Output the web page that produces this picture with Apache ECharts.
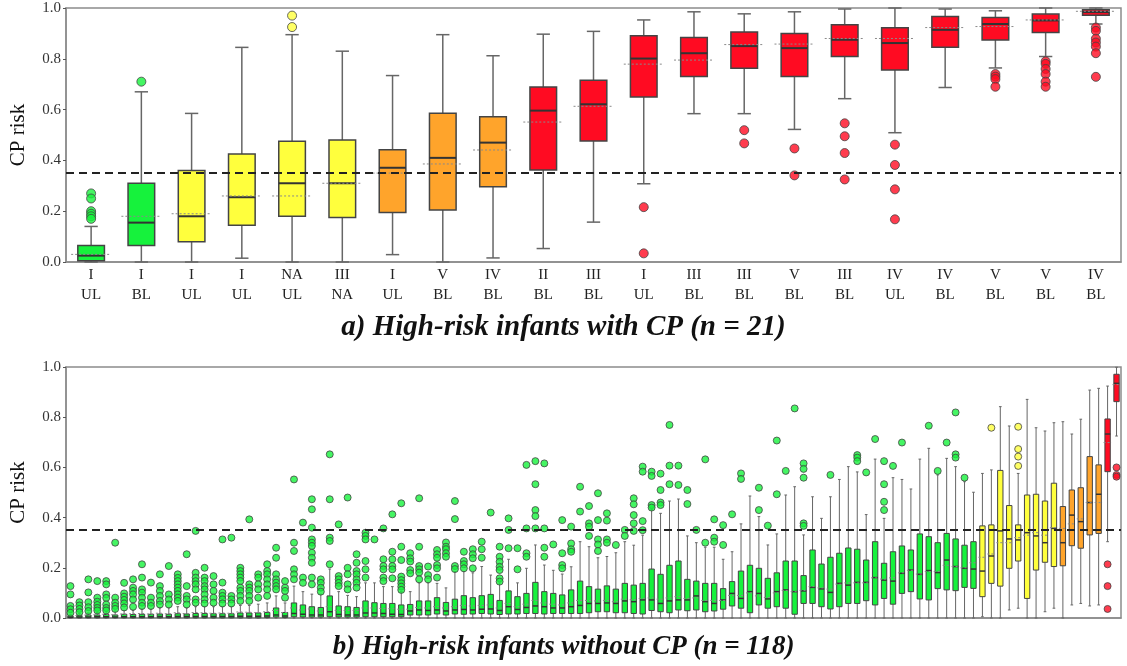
<!DOCTYPE html>
<html>
<head>
<meta charset="utf-8">
<script src="https://cdn.jsdelivr.net/npm/echarts@6/dist/echarts.min.js"></script>
<style>
  html, body { margin: 0; padding: 0; background: #fff; }
  #chart { width: 1127px; height: 666px; }
</style>
</head>
<body>
<div id="chart"></div>
<script>
const threshold = 0.35;
const groupColors = ['#16f23c', '#ffff3d', '#ffa42b', '#ff0b22'];
const serif = 'Liberation Serif';

// a) with CP, 21 infants
const gradeA = ['I','I','I','I','NA','III','I','V','IV','II','III','I','III','III','V','III','IV','IV','V','V','IV'];
const limbA = ['UL','BL','UL','UL','UL','NA','UL','BL','BL','BL','BL','UL','BL','BL','BL','BL','UL','BL','BL','BL','BL'];
const groupA = [0,0,1,1,1,1,2,2,2,3,3,3,3,3,3,3,3,3,3,3,3];
const lowA = [0,0,0,0.015,0,0,0.029,0,0.016,0.053,0.157,0.308,0.584,0.584,0.522,0.643,0.509,0.687,0.764,0.809,0.937];
const q1A = [0.005,0.065,0.08,0.145,0.18,0.175,0.195,0.205,0.296,0.362,0.476,0.65,0.73,0.763,0.73,0.809,0.756,0.845,0.874,0.904,0.971];
const medA = [0.025,0.155,0.18,0.255,0.31,0.31,0.371,0.41,0.47,0.596,0.621,0.801,0.822,0.85,0.842,0.875,0.862,0.914,0.937,0.951,0.984];
const q3A = [0.065,0.31,0.36,0.425,0.475,0.48,0.442,0.586,0.572,0.689,0.716,0.891,0.884,0.906,0.90,0.934,0.922,0.967,0.963,0.976,0.993];
const highA = [0.14,0.67,0.585,0.845,0.895,0.83,0.734,0.895,0.812,0.897,0.908,0.953,0.985,0.977,0.985,0.996,1.0,0.996,0.989,1.0,1.0];
const meanA = [0.03,0.18,0.19,0.26,0.26,0.31,0.35,0.386,0.441,0.551,0.613,0.779,0.795,0.856,0.858,0.88,0.88,0.923,0.927,0.953,0.987];
const outA = [[0.27,0.25,0.20,0.19,0.18,0.17],[0.71],[],[],[0.925,0.97],[],[],[],[],[],[],[0.216,0.034],[],[0.519,0.467],[0.447,0.341],
  [0.546,0.495,0.429,0.325],[0.462,0.382,0.286,0.168],[],[0.74,0.73,0.72,0.69],[0.79,0.78,0.76,0.74,0.71,0.69],[0.923,0.91,0.879,0.864,0.848,0.822,0.729]];

// b) without CP, 118 infants
const groupRunsB = [[0,102],[1,9],[2,5],[3,2]];
const lowB = [
  0,0,0,0,0,0,0,0,0,0, 0,0,0,0,0,0,0,0,0,0, 0,0,0,0,0,0,0,0,0,0, 0,0,0,0,0,0,0,0,0,0,
  0,0,0,0,0,0,0,0,0,0, 0,0,0,0,0,0,0,0,0,0, 0,0,0,0,0,0,0,0,0,0, 0,0,0,0,0,0,0,0,0,0,
  0,0,0,0,0,0,0,0,0,0, 0,0,0,0,0,0,0,0,0,0, 0,0,0.005,0,0,0.032,0.039,0,0,0.025,
  0.039,0,0.052,0.058,0.048,0.052,0.304,0.725];
const q1B = [
  0.001,0.001,0.001,0.001,0.001,0.001,0.001,0.001,0.001,0.001,
  0.001,0.001,0.001,0.001,0.001,0.001,0.001,0.001,0.001,0.001,
  0.001,0.001,0.002,0.004,0.002,0.005,0.004,0.004,0.004,0.005,
  0.004,0.004,0.004,0.005,0.005,0.005,0.005,0.005,0.012,0.012,
  0.012,0.016,0.012,0.016,0.015,0.016,0.018,0.016,0.014,0.016,
  0.016,0.018,0.018,0.016,0.018,0.018,0.018,0.018,0.021,0.025,
  0.025,0.021,0.021,0.018,0.016,0.030,0.025,0.021,0.032,0.029,
  0.032,0.025,0.028,0.035,0.048,0.039,0.021,0.052,0.039,0.045,
  0.039,0.015,0.058,0.058,0.045,0.036,0.045,0.058,0.058,0.069,
  0.052,0.078,0.055,0.098,0.105,0.076,0.072,0.117,0.112,0.109,
  0.122,0.118,0.085,0.138,0.127,0.198,0.227,0.078,0.191,0.222,
  0.205,0.208,0.288,0.278,0.331,0.337,0.583,0.862];
const medB = [
  0.003,0.004,0.004,0.005,0.005,0.004,0.005,0.005,0.005,0.005,
  0.006,0.005,0.006,0.006,0.006,0.006,0.006,0.006,0.006,0.007,
  0.007,0.007,0.008,0.012,0.008,0.018,0.015,0.012,0.012,0.025,
  0.014,0.012,0.012,0.02,0.02,0.018,0.015,0.014,0.028,0.032,
  0.03,0.032,0.028,0.032,0.034,0.032,0.035,0.036,0.03,0.045,
  0.034,0.042,0.048,0.045,0.04,0.04,0.045,0.05,0.058,0.058,
  0.06,0.058,0.068,0.065,0.072,0.072,0.058,0.068,0.072,0.072,
  0.088,0.065,0.058,0.072,0.098,0.078,0.105,0.098,0.076,0.105,
  0.112,0.105,0.108,0.122,0.116,0.102,0.138,0.131,0.142,0.142,
  0.161,0.151,0.147,0.178,0.191,0.174,0.189,0.181,0.231,0.205,
  0.198,0.195,0.187,0.247,0.347,0.315,0.311,0.34,0.327,0.30,
  0.357,0.30,0.41,0.384,0.46,0.493,0.733,0.935];
const q3B = [
  0.008,0.010,0.012,0.012,0.014,0.012,0.015,0.014,0.015,0.015,
  0.016,0.015,0.017,0.016,0.018,0.018,0.017,0.017,0.017,0.02,
  0.02,0.02,0.022,0.04,0.022,0.06,0.052,0.045,0.042,0.088,
  0.048,0.045,0.042,0.068,0.061,0.058,0.058,0.052,0.054,0.068,
  0.068,0.081,0.062,0.075,0.089,0.081,0.089,0.094,0.07,0.108,
  0.085,0.098,0.142,0.105,0.098,0.092,0.112,0.147,0.125,0.115,
  0.128,0.115,0.138,0.131,0.138,0.195,0.174,0.21,0.227,0.154,
  0.147,0.138,0.138,0.117,0.145,0.187,0.21,0.198,0.158,0.18,
  0.227,0.227,0.169,0.271,0.215,0.242,0.258,0.279,0.274,0.231,
  0.304,0.218,0.264,0.287,0.271,0.335,0.324,0.30,0.337,0.315,
  0.29,0.304,0.367,0.371,0.588,0.448,0.371,0.49,0.493,0.466,
  0.537,0.444,0.51,0.519,0.643,0.61,0.793,0.971];
const highB = [
  0.015,0.018,0.02,0.022,0.025,0.028,0.03,0.03,0.035,0.035,
  0.04,0.04,0.045,0.04,0.045,0.045,0.045,0.045,0.045,0.05,
  0.05,0.055,0.06,0.088,0.06,0.127,0.105,0.095,0.095,0.195,
  0.105,0.09,0.085,0.14,0.14,0.125,0.125,0.105,0.105,0.14,
  0.14,0.138,0.12,0.185,0.185,0.18,0.205,0.171,0.14,0.234,
  0.14,0.198,0.291,0.211,0.19,0.175,0.204,0.304,0.284,0.24,
  0.245,0.26,0.304,0.29,0.33,0.433,0.417,0.466,0.474,0.327,
  0.30,0.282,0.282,0.234,0.264,0.375,0.486,0.404,0.291,0.335,
  0.49,0.523,0.331,0.483,0.397,0.483,0.552,0.603,0.582,0.412,
  0.633,0.397,0.559,0.552,0.514,0.633,0.676,0.57,0.636,0.603,
  0.543,0.501,0.576,0.59,0.842,0.765,0.576,0.871,0.758,0.745,
  0.778,0.782,0.733,0.792,0.908,0.915,0.924,0.999];
const meanB = [
  0.012,0.01,0.012,0.013,0.015,0.013,0.016,0.017,0.018,0.016,
  0.019,0.017,0.021,0.018,0.022,0.021,0.019,0.02,0.019,0.024,
  0.023,0.022,0.025,0.03,0.022,0.04,0.032,0.036,0.028,0.045,
  0.03,0.03,0.03,0.04,0.04,0.038,0.037,0.035,0.035,0.042,
  0.04,0.045,0.04,0.045,0.05,0.048,0.05,0.052,0.04,0.058,
  0.045,0.055,0.07,0.06,0.055,0.052,0.06,0.07,0.07,0.068,
  0.07,0.065,0.075,0.073,0.078,0.08,0.075,0.08,0.085,0.078,
  0.08,0.07,0.07,0.07,0.09,0.09,0.1,0.088,0.082,0.1,
  0.11,0.105,0.11,0.125,0.12,0.115,0.135,0.14,0.14,0.14,
  0.16,0.155,0.16,0.18,0.19,0.175,0.185,0.185,0.21,0.205,
  0.2,0.22,0.242,0.255,0.3,0.3,0.32,0.33,0.34,0.33,
  0.36,0.357,0.375,0.395,0.46,0.46,0.699,0.93];
const outB = [
  [0.127,0.094,0.048,0.035,0.021],[0.063,0.05,0.036,0.023],[0.154,0.102,0.063,0.043,0.028],[0.147,0.081,0.065,0.052,0.04,0.03],
  [0.147,0.134,0.094,0.08,0.054,0.04,0.03],[0.30,0.081,0.061,0.048,0.036],[0.14,0.098,0.085,0.072,0.058,0.042],
  [0.154,0.121,0.108,0.094,0.074,0.045],[0.214,0.161,0.114,0.101,0.081,0.061,0.048],[0.141,0.081,0.061,0.048],
  [0.174,0.127,0.108,0.088,0.068,0.054],[0.207,0.094,0.074,0.054],[0.174,0.16,0.147,0.134,0.121,0.108,0.094,0.081,0.068],
  [0.254,0.127,0.088,0.074,0.054],[0.347,0.18,0.161,0.147,0.134,0.114,0.074,0.061],[0.20,0.161,0.147,0.127,0.114,0.094,0.074,0.058],
  [0.167,0.134,0.108,0.081,0.061],[0.313,0.141,0.101,0.088,0.074,0.058],[0.32,0.088,0.074,0.058],
  [0.20,0.187,0.174,0.161,0.147,0.121,0.108,0.088,0.068],[0.393,0.134,0.121,0.108,0.088,0.068],[0.174,0.161,0.134,0.114,0.081],
  [0.214,0.187,0.174,0.154,0.134,0.114,0.088],[0.28,0.24,0.174,0.154,0.141,0.127,0.114],[0.147,0.121,0.108,0.081],
  [0.552,0.30,0.267,0.194,0.174,0.154],[0.38,0.161,0.14],[0.473,0.433,0.36,0.313,0.30,0.287,0.26,0.24,0.22,0.161,0.134],
  [0.154,0.14,0.121,0.105],[0.652,0.473,0.32,0.307,0.214],[0.373,0.167,0.154,0.14,0.127],[0.48,0.20,0.174,0.134,0.114],
  [0.254,0.22,0.187,0.174,0.154,0.14,0.121],[0.34,0.327,0.313,0.227,0.194,0.161],[0.313],[0.357,0.234,0.207,0.194,0.161,0.147],
  [0.413,0.264,0.234,0.207,0.194,0.158],[0.457,0.284,0.231,0.165,0.151,0.138,0.125,0.112],[0.258,0.238,0.225,0.191,0.178],
  [0.477,0.284,0.207,0.194,0.181,0.154],[0.205,0.171,0.154],[0.271,0.254,0.24,0.211,0.198,0.161],[0.301,0.284,0.274,0.258,0.244],
  [0.466,0.394,0.207,0.195],[0.264,0.227,0.214,0.198],[0.274,0.254,0.238,0.198],[0.304,0.274,0.24],[0.42],
  [0.284,0.244,0.224,0.204,0.191,0.158,0.145],[0.397,0.351,0.278],[0.278,0.194],[0.61,0.357,0.258,0.244],
  [0.625,0.533,0.43,0.406,0.357],[0.616,0.357,0.28,0.244],[0.293],[0.39,0.258,0.211,0.198],[0.364,0.297,0.274,0.264],
  [0.523,0.424],[0.446,0.377,0.364,0.327],[0.497,0.39,0.313,0.293,0.267],[0.417,0.388,0.313,0.30],[0.291],[0.351,0.327],
  [0.477,0.453,0.41,0.377,0.347],[0.603,0.583,0.386,0.35],[0.583,0.566,0.45,0.44],[0.575,0.51,0.46,0.45],[0.769,0.607,0.533],
  [0.607,0.53],[0.51,0.454],[0.351],[0.632,0.30],[0.393,0.32,0.304],[0.37,0.291],[0.413],[0.576,0.554],[],
  [0.519,0.43],[0.368],[0.707,0.493],[0.586],[0.835],[0.616,0.594,0.559,0.377,0.367],[],[],[0.57],[],[],
  [0.649,0.639,0.625],[0.58],[0.713],[0.625,0.533,0.463,0.43],[0.606],[0.699],[],[],[0.766],[0.586],[0.699],
  [0.819,0.652,0.639],[0.559],[],[],[0.758],[],[],[0.762,0.673,0.643,0.606],[],[],[],[],[],[],[],[],[],
  [0.214,0.127,0.036],[0.6,0.57,0.563]];

const groupB = [];
groupRunsB.forEach(([g, n]) => { for (let k = 0; k < n; k++) groupB.push(g); });

function boxRows(low, q1, med, q3, high, mean, group) {
  return low.map((v, i) => [i, v, q1[i], med[i], q3[i], high[i], mean[i], group[i]]);
}
function outlierRows(outs, group) {
  const rows = [];
  outs.forEach((list, i) => list.forEach(v => rows.push([i, v, group[i]])));
  return rows;
}

function makeRender(boxRatio, lw) {
  return function (params, api) {
    const x = api.value(0);
    const band = api.size([1, 0])[0];
    const bw = band * boxRatio;
    const pt = v => api.coord([x, v]);
    const cx = pt(0)[0];
    const yLow = pt(api.value(1))[1], yQ1 = pt(api.value(2))[1], yMed = pt(api.value(3))[1];
    const yQ3 = pt(api.value(4))[1], yHigh = pt(api.value(5))[1], yMean = pt(api.value(6))[1];
    const fill = groupColors[api.value(7)];
    const wStyle = { stroke: '#666', lineWidth: lw };
    const cap = bw * 0.25;
    return {
      type: 'group',
      children: [
        { type: 'line', shape: { x1: cx, y1: yLow, x2: cx, y2: yQ1 }, style: wStyle },
        { type: 'line', shape: { x1: cx, y1: yQ3, x2: cx, y2: yHigh }, style: wStyle },
        { type: 'line', shape: { x1: cx - cap, y1: yLow, x2: cx + cap, y2: yLow }, style: wStyle },
        { type: 'line', shape: { x1: cx - cap, y1: yHigh, x2: cx + cap, y2: yHigh }, style: wStyle },
        { type: 'rect', shape: { x: cx - bw / 2, y: yQ3, width: bw, height: Math.max(yQ1 - yQ3, 1) },
          style: { fill: fill, stroke: '#444', lineWidth: lw } },
        { type: 'line', shape: { x1: cx - bw / 2, y1: yMed, x2: cx + bw / 2, y2: yMed },
          style: { stroke: '#333', lineWidth: lw + 0.5 } },
        { type: 'line', shape: { x1: cx - bw * 0.75, y1: yMean, x2: cx + bw * 0.75, y2: yMean },
          style: { stroke: '#8a8a8a', lineWidth: 1, lineDash: [2, 2] } }
      ]
    };
  };
}

function yAxisFor(gridIndex) {
  return {
    type: 'value', gridIndex: gridIndex, min: 0, max: 1, interval: 0.2,
    name: 'CP risk', nameLocation: 'middle', nameGap: 37,
    nameTextStyle: { fontFamily: serif, fontSize: 21, color: '#111' },
    axisLine: { show: true, lineStyle: { color: '#8c8c8c', width: 1.5 } },
    axisTick: { show: true, length: 3, lineStyle: { color: '#555' } },
    axisLabel: { fontFamily: serif, fontSize: 15, color: '#333', margin: 5, formatter: v => v.toFixed(1) },
    splitLine: { show: false }
  };
}

function outlierSeries(axis, rows, size) {
  return {
    type: 'scatter', xAxisIndex: axis, yAxisIndex: axis, data: rows, symbolSize: size, z: 4,
    itemStyle: { color: p => groupColors[p.data[2]], borderColor: '#444', borderWidth: 1 },
    markLine: {
      silent: true, symbol: 'none', label: { show: false }, animation: false,
      lineStyle: { type: [8, 5], color: '#222', width: 2 },
      data: [{ yAxis: threshold }]
    }
  };
}

const titleStyle = { fontFamily: serif, fontStyle: 'italic', fontWeight: 'bold', fontSize: 27, color: '#111' };

const chart = echarts.init(document.getElementById('chart'));
chart.setOption({
  animation: false,
  title: [
    { text: 'a) High-risk infants with CP (n = 21)', left: 'center', top: 308,
      textStyle: Object.assign({}, titleStyle, { fontSize: 29 }) },
    { text: 'b) High-risk infants without CP (n = 118)', left: 'center', top: 629, textStyle: titleStyle }
  ],
  grid: [
    { left: 56, right: 6, top: 8, height: 254, show: true, borderColor: '#8c8c8c', borderWidth: 1.5 },
    { left: 54, right: 6, top: 367, height: 251, show: true, borderColor: '#8c8c8c', borderWidth: 1.5 }
  ],
  xAxis: [
    { type: 'category', gridIndex: 0, data: gradeA.map((g, i) => g + '\n' + limbA[i]),
      axisLine: { lineStyle: { color: '#8c8c8c', width: 1.5 } }, axisTick: { show: false },
      axisLabel: { fontFamily: serif, fontSize: 15, color: '#222', lineHeight: 20, margin: 3, interval: 0 } },
    { type: 'category', gridIndex: 1, data: groupB.map((g, i) => String(i + 1)),
      axisLine: { lineStyle: { color: '#8c8c8c', width: 1.5 } }, axisTick: { show: false },
      axisLabel: { show: false } }
  ],
  yAxis: [yAxisFor(0), yAxisFor(1)],
  series: [
    { type: 'custom', xAxisIndex: 0, yAxisIndex: 0, renderItem: makeRender(0.53, 1.5),
      data: boxRows(lowA, q1A, medA, q3A, highA, meanA, groupA), encode: { x: 0, y: [1, 5] }, z: 3 },
    outlierSeries(0, outlierRows(outA, groupA), 9),
    { type: 'custom', xAxisIndex: 1, yAxisIndex: 1, renderItem: makeRender(0.6, 1),
      data: boxRows(lowB, q1B, medB, q3B, highB, meanB, groupB), encode: { x: 0, y: [1, 5] }, z: 3 },
    outlierSeries(1, outlierRows(outB, groupB), 7)
  ]
});
</script>
</body>
</html>
